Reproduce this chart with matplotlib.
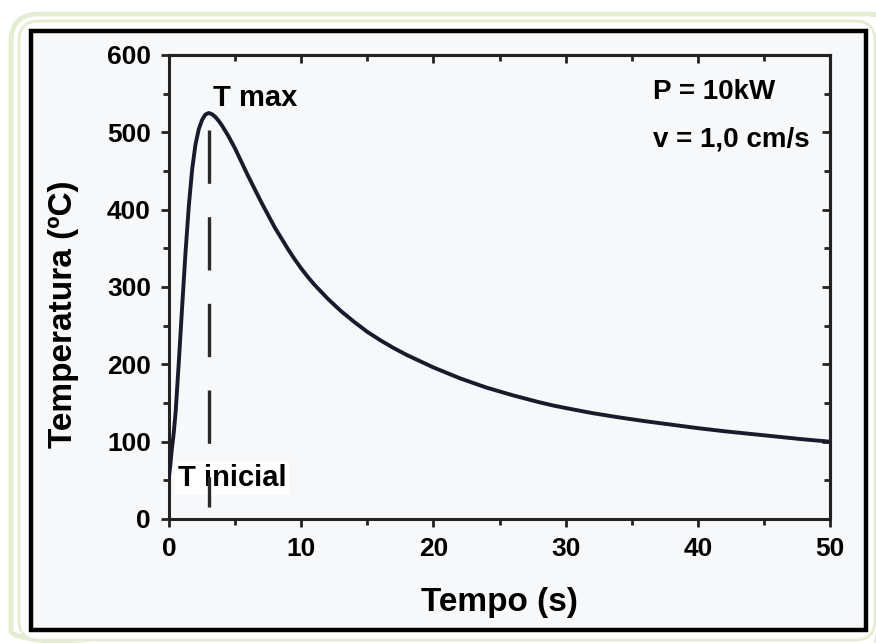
import matplotlib
matplotlib.use('Agg')
import matplotlib.pyplot as plt
from matplotlib.patches import FancyBboxPatch, Rectangle
from matplotlib.ticker import MultipleLocator

# values
tempo = [0.0, 0.1, 0.2, 0.35, 0.5, 0.75, 1.0, 1.25, 1.5, 1.75, 2.0, 2.25, 2.5,
         2.75, 3.0, 3.25, 3.5, 3.75, 4.0, 4.5, 5.0, 5.5, 6.0, 6.5, 7.0, 7.5,
         8.0, 8.5, 9.0, 9.5, 10.0, 10.5, 11.0, 11.5, 12.0, 13.0, 14.0, 15.0,
         16.0, 17.0, 18.0, 19.0, 20.0, 21.0, 22.0, 23.0, 24.0, 25.0, 26.0,
         27.0, 28.0, 29.0, 30.0, 32.0, 34.0, 36.0, 38.0, 40.0, 42.0, 44.0,
         46.0, 48.0, 50.0]
temperatura = [55, 70, 88, 110, 138, 205, 276, 345, 405, 452, 484, 504, 516,
               523, 525, 523.5, 520, 515, 509, 495, 479, 461, 443, 426, 409, 393,
               377, 363, 349, 336, 324, 313, 303, 294, 285, 269, 255, 242,
               231, 221, 212, 204, 196, 189, 182, 176, 170, 165, 160,
               155.5, 151, 147, 143.5, 137, 131.5, 126.5, 122, 117.5, 113.5, 110,
               106.5, 103, 100]
t_pico = 3.0
linha_y = [503, 15]

xticks = [0, 10, 20, 30, 40, 50]
yticks = [0, 100, 200, 300, 400, 500, 600]

plt.rcParams['font.family'] = ['Liberation Sans', 'DejaVu Sans']
plt.rcParams['font.weight'] = 'bold'

fig = plt.figure(figsize=(8.76, 6.43), dpi=100)
fig.patch.set_facecolor('white')

# page decoration: green rounded border and black frame (pixel coordinates)
bg = fig.add_axes([0, 0, 1, 1], zorder=-1)
bg.set_xlim(0, 876)
bg.set_ylim(643, 0)
bg.axis('off')
bg.add_patch(FancyBboxPatch((11, 14), 885, 645, boxstyle='round,pad=0,rounding_size=28',
                            fc='none', ec='#e4edd0', lw=3.5))
bg.add_patch(FancyBboxPatch((19, 21), 856, 619, boxstyle='round,pad=0,rounding_size=20',
                            fc='white', ec='#e4edd0', lw=2))
bg.add_patch(Rectangle((31, 31), 835, 599, fc='#f6f8fa', ec='black', lw=3.2))

ax = fig.add_axes([169 / 876, 1 - 519 / 643, 661 / 876, 464 / 643])
ax.set_facecolor('#f6f8fa')

ax.plot(tempo, temperatura, color='#1a1a2c', lw=2.8, zorder=3,
        solid_joinstyle='round')
ax.plot([t_pico, t_pico], linha_y, color='#2a2a2a', lw=2.4, dashes=(16, 10), zorder=4)

ax.set_xlim(0, 50)
ax.set_ylim(0, 600)
ax.set_xticks(xticks)
ax.set_yticks(yticks)
ax.xaxis.set_minor_locator(MultipleLocator(5))
ax.yaxis.set_minor_locator(MultipleLocator(50))

for s in ax.spines.values():
    s.set_linewidth(2.2)
    s.set_color('#222222')

ax.tick_params(which='both', direction='out', width=2, color='#222222',
               labelsize=19, pad=7)
ax.tick_params(which='major', length=6)
ax.tick_params(which='minor', length=4)

# inward ticks on top and right
axt = ax.secondary_xaxis('top')
axt.set_xticks(xticks)
axt.xaxis.set_minor_locator(MultipleLocator(5))
axt.tick_params(which='both', direction='in', width=2, color='#222222', labeltop=False)
axt.tick_params(which='major', length=6)
axt.tick_params(which='minor', length=4)
axt.spines['top'].set_linewidth(2.2)
axr = ax.secondary_yaxis('right')
axr.set_yticks(yticks)
axr.yaxis.set_minor_locator(MultipleLocator(50))
axr.tick_params(which='both', direction='in', width=2, color='#222222', labelright=False)
axr.tick_params(which='major', length=6)
axr.tick_params(which='minor', length=4)
axr.spines['right'].set_linewidth(2.2)

ax.set_xlabel('Tempo (s)', fontsize=24, fontweight='bold', va='center')
ax.xaxis.set_label_coords(0.5, -0.181)
ax.set_ylabel('Temperatura (ºC)', fontsize=24, fontweight='bold', va='center')
ax.yaxis.set_label_coords(-0.159, 0.442)

ax.text(3.3, 545, 'T max', fontsize=21, fontweight='bold', va='center', ha='left', zorder=5)
ax.text(0.65, 53, 'T inicial', fontsize=21, fontweight='bold', va='center', ha='left', zorder=2,
        bbox=dict(fc='white', ec='none', pad=2))
ax.text(36.6, 552, 'P = 10kW', fontsize=20, fontweight='bold', va='center', ha='left')
ax.text(36.6, 491, 'v = 1,0 cm/s', fontsize=20, fontweight='bold', va='center', ha='left')

plt.savefig('out.png', dpi=100)
